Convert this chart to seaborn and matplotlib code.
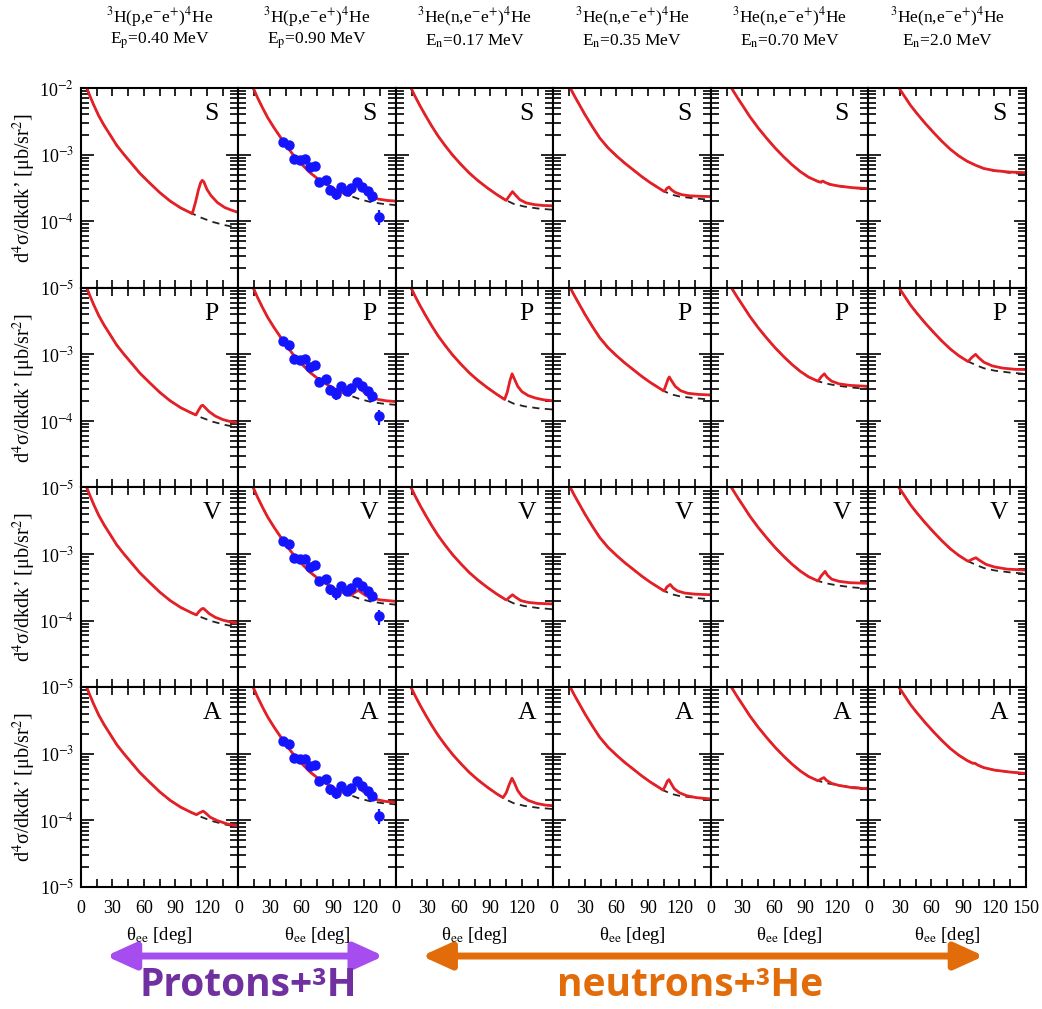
import numpy as np
import pandas as pd
import matplotlib
matplotlib.use("Agg")
import matplotlib.pyplot as plt
import seaborn as sns
from matplotlib.patches import FancyArrowPatch
from matplotlib.ticker import LogLocator, MultipleLocator, NullFormatter, FixedLocator

# ---------------- column headers / panel letters ----------------
reactions = [r"$^{3}$H(p,e$^{-}$e$^{+}$)$^{4}$He", r"$^{3}$H(p,e$^{-}$e$^{+}$)$^{4}$He",
             r"$^{3}$He(n,e$^{-}$e$^{+}$)$^{4}$He", r"$^{3}$He(n,e$^{-}$e$^{+}$)$^{4}$He",
             r"$^{3}$He(n,e$^{-}$e$^{+}$)$^{4}$He", r"$^{3}$He(n,e$^{-}$e$^{+}$)$^{4}$He"]
energies = [r"E$_{\mathrm{p}}$=0.40 MeV", r"E$_{\mathrm{p}}$=0.90 MeV", r"E$_{\mathrm{n}}$=0.17 MeV",
            r"E$_{\mathrm{n}}$=0.35 MeV", r"E$_{\mathrm{n}}$=0.70 MeV", r"E$_{\mathrm{n}}$=2.0 MeV"]
row_letters = ["S", "P", "V", "A"]
xtick_vals = [0, 30, 60, 90, 120, 150]
ytick_vals = [1e-5, 1e-4, 1e-3, 1e-2]

# ---------------- background (dashed) curves per column ----------------
c1_theta = [5.5, 8, 12, 17, 22, 28, 34, 41, 48, 56, 65, 75, 85, 95, 105, 115, 125, 137, 150]
c1_base = [1.0e-2, 7.94e-3, 5.62e-3, 3.80e-3, 2.75e-3, 1.95e-3, 1.38e-3, 1.0e-3, 7.41e-4, 5.25e-4,
           3.80e-4, 2.69e-4, 2.0e-4, 1.58e-4, 1.32e-4, 1.12e-4, 9.77e-5, 8.71e-5, 7.94e-5]
c2_theta = [14, 18, 23, 28, 34, 40, 46, 53, 60, 68, 76, 85, 95, 105, 115, 125, 137, 150]
c2_base = [1.0e-2, 7.24e-3, 5.01e-3, 3.55e-3, 2.51e-3, 1.82e-3, 1.32e-3, 9.55e-4, 7.24e-4, 5.37e-4,
           4.27e-4, 3.47e-4, 2.82e-4, 2.45e-4, 2.14e-4, 1.95e-4, 1.82e-4, 1.74e-4]
c3_theta = [14.3, 18, 23, 28, 34, 40, 47, 54, 62, 70, 78, 87, 96, 104, 112, 122, 135, 150]
c3_base = [1.0e-2, 7.59e-3, 5.37e-3, 3.89e-3, 2.69e-3, 1.91e-3, 1.35e-3, 9.77e-4, 7.08e-4, 5.25e-4,
           4.07e-4, 3.16e-4, 2.51e-4, 2.09e-4, 1.82e-4, 1.66e-4, 1.55e-4, 1.48e-4]
c4_theta = [16, 20, 25, 30, 37, 44, 52, 60, 68, 76, 84, 92, 100, 105, 112, 120, 135, 150]
c4_base = [1.0e-2, 7.59e-3, 5.50e-3, 3.98e-3, 2.63e-3, 1.78e-3, 1.26e-3, 9.55e-4, 7.41e-4, 5.89e-4,
           4.68e-4, 3.80e-4, 3.16e-4, 2.82e-4, 2.51e-4, 2.34e-4, 2.19e-4, 2.09e-4]
c5_theta = [19.5, 25, 30, 37, 45, 53, 61, 69, 77, 85, 93, 102, 110, 120, 135, 150]
c5_base = [1.0e-2, 7.24e-3, 5.50e-3, 3.72e-3, 2.51e-3, 1.76e-3, 1.26e-3, 9.33e-4, 7.08e-4, 5.56e-4,
           4.57e-4, 3.94e-4, 3.63e-4, 3.39e-4, 3.16e-4, 3.02e-4]
c6_theta = [29, 35, 40, 46, 54, 62, 70, 78, 86, 94, 102, 110, 120, 135, 150]
c6_base = [1.0e-2, 7.24e-3, 5.50e-3, 4.17e-3, 2.95e-3, 2.14e-3, 1.58e-3, 1.20e-3, 9.55e-4, 7.94e-4,
           6.92e-4, 6.17e-4, 5.69e-4, 5.31e-4, 5.07e-4]

# ---------------- full (red) curves: part from the anomaly onward ----------------
c1_S_theta = [106, 109, 112, 114, 115.5, 117, 120, 124, 130, 137, 144, 150]
c1_S_red = [1.29e-4, 1.9e-4, 3.0e-4, 3.8e-4, 4.1e-4, 3.9e-4, 3.0e-4, 2.4e-4, 1.9e-4, 1.6e-4, 1.45e-4, 1.35e-4]
c1_P_theta = [109.5, 112, 114.5, 116, 118, 122, 128, 135, 142, 150]
c1_P_red = [1.23e-4, 1.45e-4, 1.68e-4, 1.72e-4, 1.6e-4, 1.38e-4, 1.18e-4, 1.05e-4, 9.8e-5, 9.4e-5]
c1_V_theta = [110, 112.5, 115, 116.6, 118.5, 122, 128, 135, 142, 150]
c1_V_red = [1.22e-4, 1.38e-4, 1.5e-4, 1.53e-4, 1.44e-4, 1.28e-4, 1.12e-4, 1.02e-4, 9.6e-5, 9.2e-5]
c1_A_theta = [110, 113, 116.5, 119, 123, 130, 140, 150]
c1_A_red = [1.22e-4, 1.3e-4, 1.38e-4, 1.28e-4, 1.12e-4, 9.9e-5, 8.8e-5, 8.3e-5]

c2_S_theta = [105.5, 108, 111, 113, 116, 120, 126, 133, 141, 150]
c2_S_red = [2.43e-4, 2.8e-4, 3.5e-4, 3.8e-4, 3.3e-4, 2.8e-4, 2.4e-4, 2.15e-4, 2.05e-4, 2.0e-4]
c2_P_theta = [105.5, 108, 111, 113, 116, 120, 126, 133, 141, 150]
c2_P_red = [2.43e-4, 2.75e-4, 3.3e-4, 3.5e-4, 3.1e-4, 2.65e-4, 2.3e-4, 2.1e-4, 2.0e-4, 1.95e-4]
c2_V_theta = [107, 110, 114, 117, 121, 127, 135, 150]
c2_V_red = [2.4e-4, 2.6e-4, 2.85e-4, 2.65e-4, 2.4e-4, 2.2e-4, 2.05e-4, 1.95e-4]
c2_A_theta = [104.5, 107, 110, 112.4, 115, 119, 125, 132, 140, 150]
c2_A_red = [2.47e-4, 2.75e-4, 3.25e-4, 3.6e-4, 3.2e-4, 2.7e-4, 2.3e-4, 2.05e-4, 1.93e-4, 1.86e-4]

c3_S_theta = [105, 108, 111, 114, 118, 124, 132, 140, 150]
c3_S_red = [2.05e-4, 2.4e-4, 2.78e-4, 2.45e-4, 2.1e-4, 1.88e-4, 1.77e-4, 1.72e-4, 1.7e-4]
c3_P_theta = [103.5, 106, 108.5, 110.6, 113, 116, 120, 126, 133, 141, 150]
c3_P_red = [2.1e-4, 2.7e-4, 4.0e-4, 5.1e-4, 4.2e-4, 3.3e-4, 2.75e-4, 2.4e-4, 2.2e-4, 2.07e-4, 2.0e-4]
c3_V_theta = [105.5, 108, 111, 114, 119, 126, 135, 150]
c3_V_red = [2.05e-4, 2.25e-4, 2.45e-4, 2.25e-4, 2.0e-4, 1.88e-4, 1.82e-4, 1.78e-4]
c3_A_theta = [102, 105, 108, 110.5, 113, 116, 120, 126, 134, 142, 150]
c3_A_red = [2.2e-4, 2.6e-4, 3.5e-4, 4.3e-4, 3.6e-4, 2.8e-4, 2.3e-4, 2.0e-4, 1.8e-4, 1.7e-4, 1.66e-4]

c4_S_theta = [106, 108, 110, 112.5, 116, 122, 130, 140, 150]
c4_S_red = [2.78e-4, 3.1e-4, 3.25e-4, 2.95e-4, 2.7e-4, 2.5e-4, 2.4e-4, 2.36e-4, 2.34e-4]
c4_P_theta = [105, 107, 109, 110.3, 112.5, 116, 121, 128, 138, 150]
c4_P_red = [2.82e-4, 3.4e-4, 4.2e-4, 4.57e-4, 4.0e-4, 3.3e-4, 2.85e-4, 2.6e-4, 2.5e-4, 2.45e-4]
c4_V_theta = [105.8, 108, 111.2, 114, 118, 125, 135, 150]
c4_V_red = [2.78e-4, 3.2e-4, 3.5e-4, 3.1e-4, 2.8e-4, 2.6e-4, 2.5e-4, 2.45e-4]
c4_A_theta = [104.4, 106.5, 108.5, 110, 112, 115, 120, 127, 136, 150]
c4_A_red = [2.85e-4, 3.3e-4, 3.9e-4, 4.1e-4, 3.6e-4, 3.0e-4, 2.6e-4, 2.35e-4, 2.2e-4, 2.1e-4]

c5_S_theta = [104, 106.5, 109, 114, 122, 135, 150]
c5_S_red = [3.85e-4, 4.0e-4, 3.8e-4, 3.55e-4, 3.36e-4, 3.18e-4, 3.08e-4]
c5_P_theta = [102, 105, 108, 110.5, 115, 122, 132, 150]
c5_P_red = [3.94e-4, 4.6e-4, 5.1e-4, 4.5e-4, 3.95e-4, 3.6e-4, 3.42e-4, 3.3e-4]
c5_V_theta = [102, 105, 108.7, 111, 115, 122, 132, 150]
c5_V_red = [3.94e-4, 4.7e-4, 5.5e-4, 4.8e-4, 4.2e-4, 3.9e-4, 3.72e-4, 3.63e-4]
c5_A_theta = [102, 105, 107.6, 110, 115, 122, 135, 150]
c5_A_red = [3.94e-4, 4.2e-4, 4.4e-4, 4.0e-4, 3.6e-4, 3.35e-4, 3.1e-4, 2.98e-4]

c6_S_theta = [120, 135, 150]
c6_S_red = [5.75e-4, 5.45e-4, 5.35e-4]
c6_P_theta = [95, 98.5, 102, 105, 110, 118, 128, 140, 150]
c6_P_red = [7.8e-4, 9.0e-4, 1.0e-3, 8.9e-4, 7.6e-4, 6.7e-4, 6.2e-4, 5.95e-4, 5.9e-4]
c6_V_theta = [95.3, 99, 102.3, 106, 112, 120, 132, 150]
c6_V_red = [7.8e-4, 8.4e-4, 8.8e-4, 8.0e-4, 7.0e-4, 6.4e-4, 5.95e-4, 5.75e-4]
c6_A_theta = [99, 101.5, 104, 110, 120, 135, 150]
c6_A_red = [7.25e-4, 7.2e-4, 6.8e-4, 6.2e-4, 5.7e-4, 5.32e-4, 5.07e-4]

# ---------------- experimental points (Ep = 0.90 MeV) ----------------
exp_theta = [42.5, 47.9, 52.7, 58.4, 63.2, 67.9, 73.3, 76.8, 82.9, 87.6, 92.7, 98.1, 102.9,
             107.6, 113.0, 117.8, 122.9, 127.6, 133.7]
exp_value = [1.57e-3, 1.40e-3, 8.6e-4, 8.3e-4, 8.5e-4, 6.5e-4, 6.8e-4, 3.9e-4, 4.2e-4, 2.95e-4,
             2.57e-4, 3.3e-4, 2.8e-4, 3.1e-4, 3.85e-4, 3.3e-4, 2.8e-4, 2.35e-4, 1.17e-4]
exp_err = [1.2e-4, 1.1e-4, 6e-5, 6e-5, 7e-5, 5e-5, 6e-5, 6e-5, 4e-5, 5e-5,
           5e-5, 3e-5, 3e-5, 3e-5, 3e-5, 3e-5, 4e-5, 4e-5, 3e-5]

# ---------------- assemble ----------------
col_theta = [c1_theta, c2_theta, c3_theta, c4_theta, c5_theta, c6_theta]
col_base = [c1_base, c2_base, c3_base, c4_base, c5_base, c6_base]
red_parts = {
    (0, "S"): (c1_S_theta, c1_S_red), (0, "P"): (c1_P_theta, c1_P_red),
    (0, "V"): (c1_V_theta, c1_V_red), (0, "A"): (c1_A_theta, c1_A_red),
    (1, "S"): (c2_S_theta, c2_S_red), (1, "P"): (c2_P_theta, c2_P_red),
    (1, "V"): (c2_V_theta, c2_V_red), (1, "A"): (c2_A_theta, c2_A_red),
    (2, "S"): (c3_S_theta, c3_S_red), (2, "P"): (c3_P_theta, c3_P_red),
    (2, "V"): (c3_V_theta, c3_V_red), (2, "A"): (c3_A_theta, c3_A_red),
    (3, "S"): (c4_S_theta, c4_S_red), (3, "P"): (c4_P_theta, c4_P_red),
    (3, "V"): (c4_V_theta, c4_V_red), (3, "A"): (c4_A_theta, c4_A_red),
    (4, "S"): (c5_S_theta, c5_S_red), (4, "P"): (c5_P_theta, c5_P_red),
    (4, "V"): (c5_V_theta, c5_V_red), (4, "A"): (c5_A_theta, c5_A_red),
    (5, "S"): (c6_S_theta, c6_S_red), (5, "P"): (c6_P_theta, c6_P_red),
    (5, "V"): (c6_V_theta, c6_V_red), (5, "A"): (c6_A_theta, c6_A_red),
}

sns.set_style("ticks")
plt.rcParams.update({
    "font.family": ["Liberation Serif", "DejaVu Serif"],
    "mathtext.fontset": "stix",
    "axes.edgecolor": "black", "axes.linewidth": 1.5,
    "xtick.color": "black", "ytick.color": "black",
    "text.color": "black", "axes.labelcolor": "black",
})

RED = "#e41f26"
fig, axes = plt.subplots(4, 6, figsize=(10.42, 10.09), dpi=100,
                         gridspec_kw=dict(left=0.0777, right=0.9846, top=0.9128,
                                          bottom=0.1209, wspace=0, hspace=0))

for r, letter in enumerate(row_letters):
    for c in range(6):
        ax = axes[r, c]
        th, bs = col_theta[c], col_base[c]
        bt, bv = red_parts[(c, letter)]
        red_t = [t for t in th if t < bt[0]] + list(bt)
        red_v = [v for t, v in zip(th, bs) if t < bt[0]] + list(bv)
        df_base = pd.DataFrame({"theta": th, "xs": bs})
        df_red = pd.DataFrame({"theta": red_t, "xs": red_v})
        sns.lineplot(data=df_base, x="theta", y="xs", ax=ax, color="#222222", lw=1.3,
                     linestyle=(0, (4, 3)), estimator=None, sort=False, legend=False)
        sns.lineplot(data=df_red, x="theta", y="xs", ax=ax, color=RED, lw=2.0,
                     estimator=None, sort=False, legend=False)
        if c == 1:
            ax.errorbar(exp_theta, exp_value, yerr=exp_err, fmt="o", color="#1414ff",
                        ms=6.5, elinewidth=1.6, capsize=0, zorder=5)
        ax.set_yscale("log")
        ax.set_xlim(0, 150)
        ax.set_ylim(1e-5, 1e-2)
        ax.xaxis.set_major_locator(FixedLocator(xtick_vals))
        ax.xaxis.set_minor_locator(MultipleLocator(15))
        ax.yaxis.set_major_locator(FixedLocator(ytick_vals))
        ax.yaxis.set_minor_locator(LogLocator(base=10, subs=np.arange(2, 10), numticks=20))
        ax.yaxis.set_minor_formatter(NullFormatter())
        ax.tick_params(which="both", direction="in", top=True, right=True, width=1.2)
        ax.tick_params(axis="y", which="major", length=9)
        ax.tick_params(axis="y", which="minor", length=6)
        ax.tick_params(axis="x", which="both", length=6)
        ax.set_xlabel("")
        ax.set_ylabel("")
        # y tick labels
        if c == 0:
            labs = [r"10$^{-5}$", r"10$^{-4}$", r"10$^{-3}$", r"10$^{-2}$" if r == 0 else ""]
            ax.set_yticklabels(labs, fontsize=13)
            ax.tick_params(axis="y", pad=5)
            ax.set_ylabel("d$^{4}$σ/dkdk’ [μb/sr$^{2}$]", fontsize=14.5)
            ax.yaxis.set_label_coords(-0.27, 0.5)
        else:
            ax.tick_params(axis="y", labelleft=False)
        # x tick labels
        if r == 3:
            xl = [str(v) for v in xtick_vals]
            if c < 5:
                xl[-1] = ""
            ax.set_xticklabels(xl, fontsize=13)
            ax.tick_params(axis="x", pad=9)
            ax.set_xlabel(r"θ$_{\mathrm{ee}}$ [deg]", fontsize=13.5)
            ax.xaxis.set_label_coords(0.5, -0.19)
        else:
            ax.tick_params(axis="x", labelbottom=False)
        ax.text(0.83, 0.87, letter, transform=ax.transAxes, fontsize=18.5,
                ha="center", va="center")
        if r == 0:
            ax.text(0.5, 1.355, reactions[c], transform=ax.transAxes, fontsize=12.5,
                    ha="center", va="center")
            ax.text(0.5, 1.235, energies[c], transform=ax.transAxes, fontsize=12.5,
                    ha="center", va="center")
        for sp in ax.spines.values():
            sp.set_visible(True)
            sp.set_linewidth(1.5)

# ---------------- bottom group annotations ----------------
arr1 = FancyArrowPatch((0.099, 0.0525), (0.371, 0.0525), transform=fig.transFigure,
                       arrowstyle="<|-|>,head_length=1.1,head_width=0.5", mutation_scale=16,
                       lw=5, color="#a64df0")
arr2 = FancyArrowPatch((0.402, 0.0525), (0.947, 0.0525), transform=fig.transFigure,
                       arrowstyle="<|-|>,head_length=1.1,head_width=0.5", mutation_scale=16,
                       lw=5, color="#e36c0a")
fig.add_artist(arr1)
fig.add_artist(arr2)
fig.text(0.238, 0.0125, "Protons+³H", color="#7030a0", fontsize=28, fontweight="bold",
         family=["Open Sans", "DejaVu Sans"], ha="center", va="baseline")
fig.text(0.662, 0.0125, "neutrons+³He", color="#e36c0a", fontsize=28, fontweight="bold",
         family=["Open Sans", "DejaVu Sans"], ha="center", va="baseline")

fig.savefig("out.png", dpi=100)
